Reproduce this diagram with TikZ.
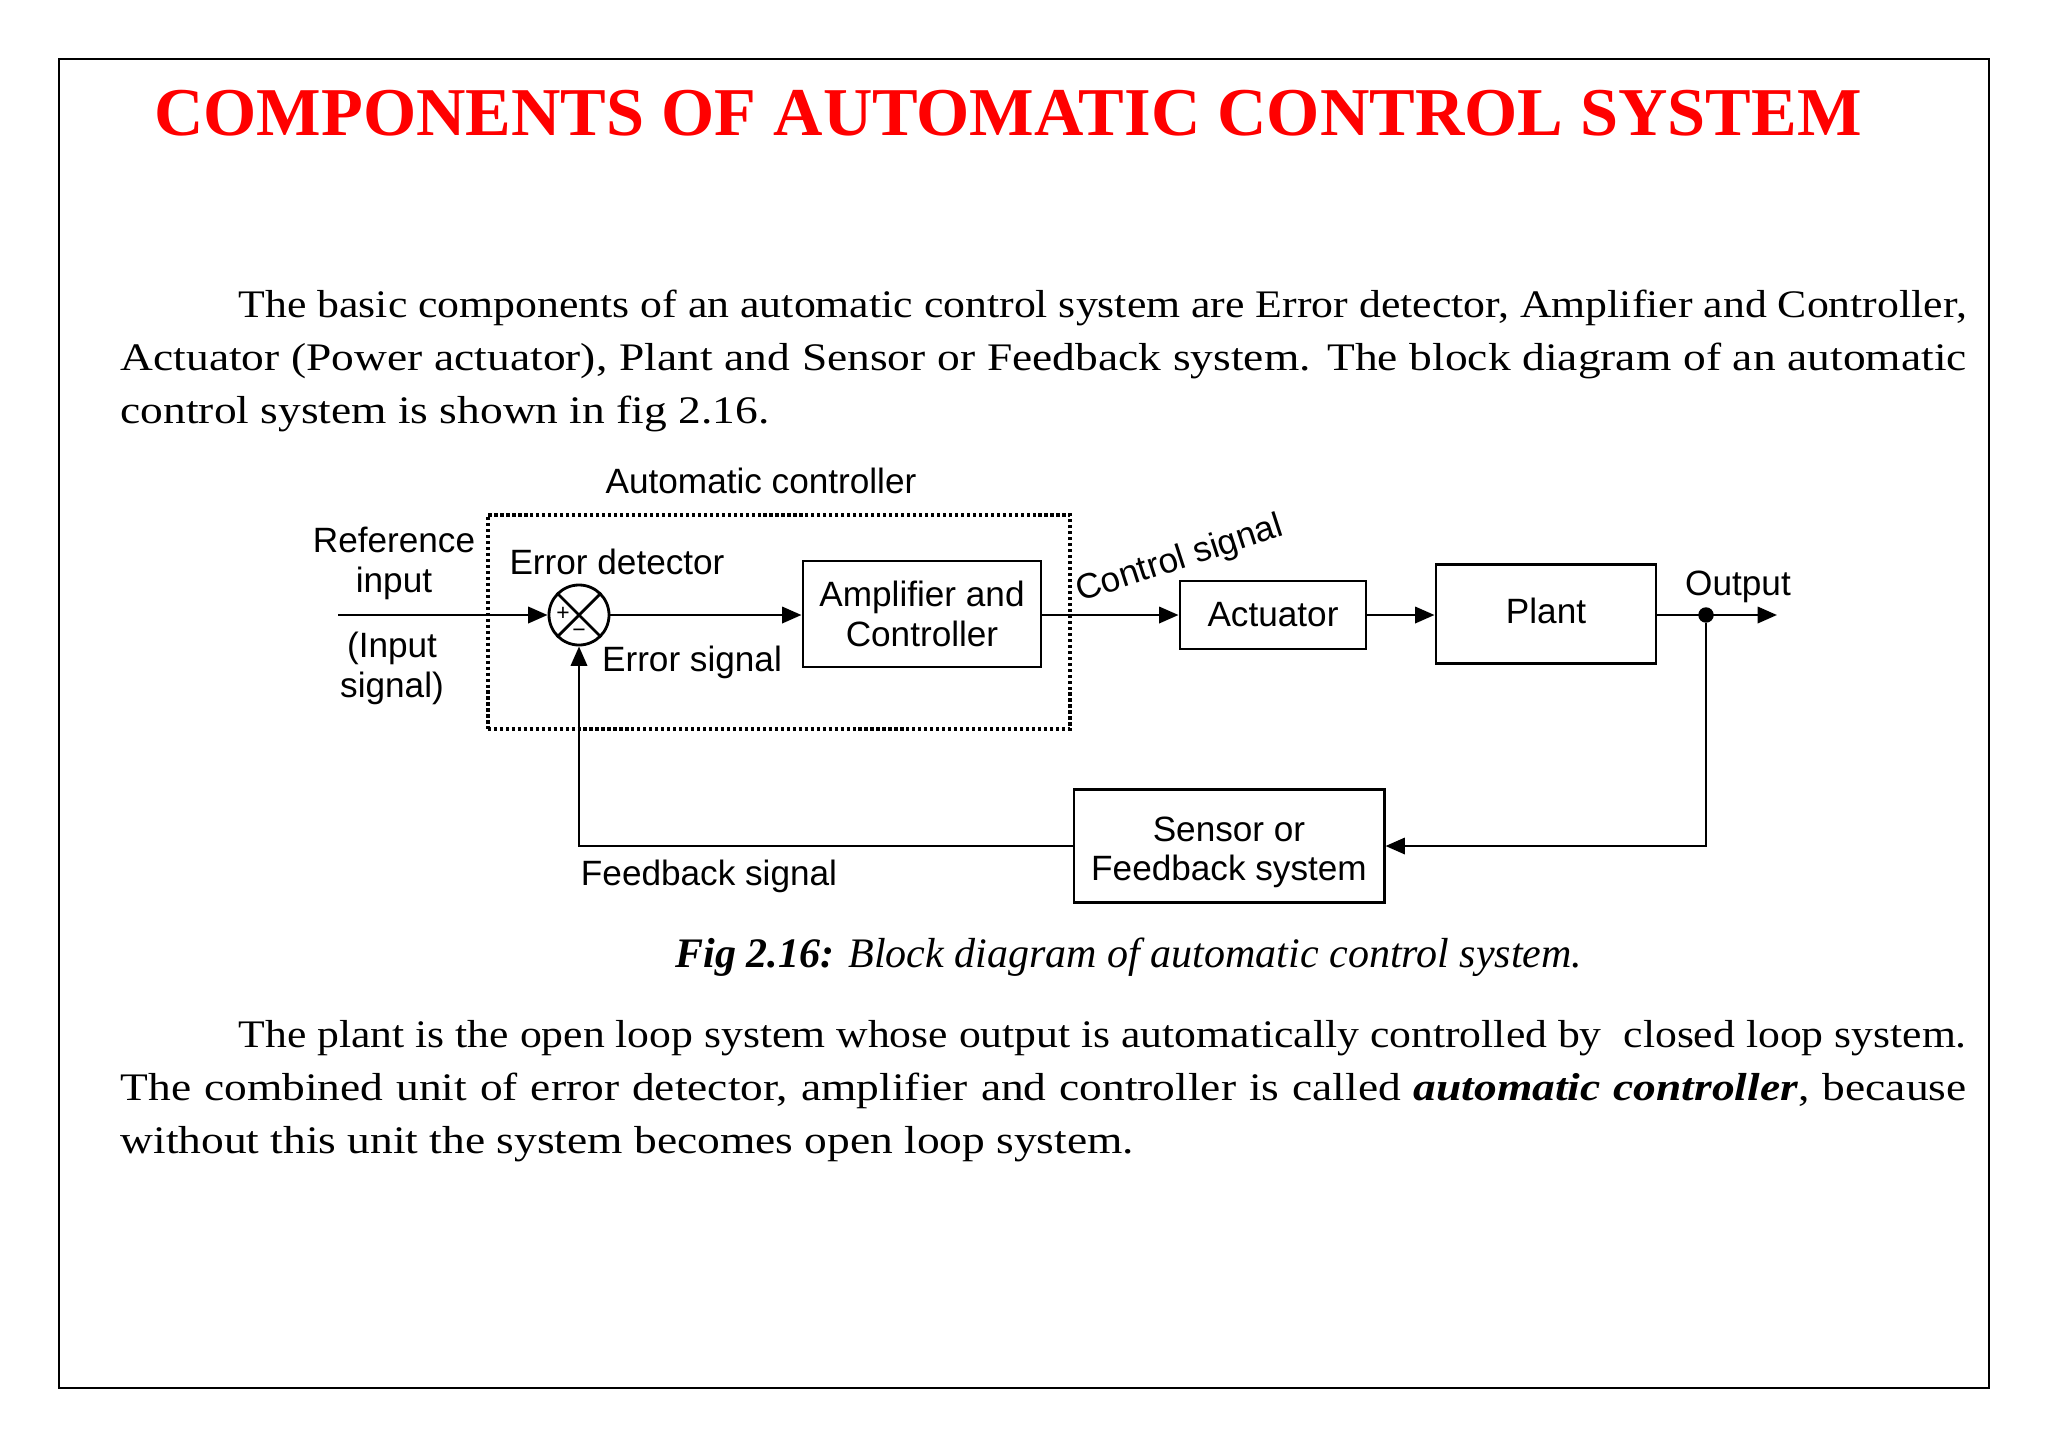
\documentclass[tikz,border=0pt]{standalone}
\usepackage{fontspec}
\usepackage{graphicx}
\setmainfont{Liberation Serif}
\newfontfamily\bodyfont[FakeStretch=1.164]{Liberation Serif}
\newfontfamily\diagfont{Liberation Sans}
\usetikzlibrary{arrows.meta}
\newdimen\pxu \pxu=0.01cm
\begin{document}
\begin{tikzpicture}[x=0.01cm,y=-0.01cm,
  blk/.style={draw, line width=0.8pt, inner sep=0pt, align=center,
    font=\diagfont\fontsize{10pt}{11.2pt}\selectfont},
  lbl/.style={inner sep=0pt, align=center,
    font=\diagfont\fontsize{10pt}{11.4pt}\selectfont},
  sig/.style={line width=0.8pt, -{Triangle[length=5.5pt,width=4.6pt]}},
  wire/.style={line width=0.8pt},
  body/.style={inner sep=0pt, anchor=base west,
    font=\bodyfont\fontsize{11.1pt}{15pt}\selectfont},
  capt/.style={inner sep=0pt, anchor=base west,
    font=\fontsize{11.95pt}{15pt}\selectfont},
  dotbox/.style={draw, line width=1.1pt, dash pattern=on 0.9pt off 0.8pt, inner sep=0pt}
]
\useasboundingbox (0,0) rectangle (2048,1448);
\fill[white] (0,0) rectangle (2048,1448);
\draw[line width=0.7pt] (59,59) rectangle (1989,1388);

% title
\node[inner sep=0pt, anchor=base, text=red,
  font=\bfseries\fontsize{19.45pt}{23pt}\selectfont] (title) at (1008,135)
  {COMPONENTS OF AUTOMATIC CONTROL SYSTEM};

% paragraph 1
\node[body] (p1a) at (238,317) {\resizebox{1728\pxu}{\height}{The basic components of an automatic control system are Error detector, Amplifier and Controller,}};
\node[body] (p1b) at (120,370) {\makebox[1846\pxu][s]{Actuator (Power actuator), Plant and Sensor or Feedback system. The block diagram of an automatic}};
\node[body] (p1c) at (120,423) {control system is shown in fig 2.16.};

% diagram
\node[dotbox, minimum width=5.82cm, minimum height=2.14cm] (ac) at (779,622) {};
\node[lbl] (aclbl) at (761,481) {Automatic controller};

\node[draw, circle, line width=0.8pt, minimum size=0.60cm, inner sep=0pt] (sum) at (579,615) {};
\draw[wire] (sum.north west) -- (sum.south east);
\draw[wire] (sum.north east) -- (sum.south west);
\node[inner sep=0pt, font=\diagfont\fontsize{6.5pt}{7pt}\selectfont] (plus) at (563,614) {+};
\node[inner sep=0pt, font=\diagfont\fontsize{6.5pt}{7pt}\selectfont] (minus) at (579,633) {−};

\node[blk, minimum width=2.38cm, minimum height=1.06cm] (amp) at (922,614) {Amplifier and\\Controller};
\node[blk, minimum width=1.86cm, minimum height=0.68cm] (act) at (1273,615) {Actuator};
\node[blk, minimum width=2.20cm, minimum height=0.99cm] (plant) at (1546,614) {\raisebox{3\pxu}[\height][\depth]{Plant}};
\node[blk, minimum width=3.10cm, minimum height=1.13cm] (sens) at (1229,846)
  {\raisebox{-7\pxu}[\height][\depth]{\begin{tabular}{@{}c@{}}Sensor or\\Feedback system\end{tabular}}};

\coordinate (in) at (338,615);
\coordinate (outend) at (1777,615);
\node[circle, fill, inner sep=0pt, minimum size=4.4pt] (dot) at (1706,615) {};

\node[lbl] (ref) at (394,563) {Reference\\input};
\node[lbl] (insig) at (392,668) {(Input\\signal)};
\node[lbl] (ed) at (617,562) {Error detector};
\node[lbl] (es) at (692,662) {Error signal};
\node[lbl, rotate=18] (cs) at (1180,560) {Control signal};
\node[lbl] (outl) at (1738,587) {Output};
\node[lbl] (fbs) at (709,876) {Feedback signal};

\draw[sig] (in) -- (sum.west);
\draw[sig] (sum.east) -- (amp.west |- sum.east);
\draw[sig] (amp.east |- act.west) -- (act.west);
\draw[sig] (act.east) -- (plant.west |- act.east);
\draw[sig] (plant.east |- dot) -- (outend);
\draw[sig] (dot) |- (sens.east);
\draw[sig] (sens.west) -| (sum.south);

% caption
\node[capt] (cap) at (675,967) {\textbf{\textit{Fig 2.16:}} \textit{Block diagram of automatic control system.}};

% paragraph 2
\node[body] (p2a) at (238,1047) {\resizebox{1728\pxu}{\height}{The plant is the open loop system whose output is automatically controlled by\ \ closed loop system.}};
\node[body] (p2b) at (120,1100) {\makebox[1846\pxu][s]{The combined unit of error detector, amplifier and controller is called \textbf{\textit{automatic controller}}, because}};
\node[body] (p2c) at (120,1153) {without this unit the system becomes open loop system.};
\end{tikzpicture}
\end{document}
